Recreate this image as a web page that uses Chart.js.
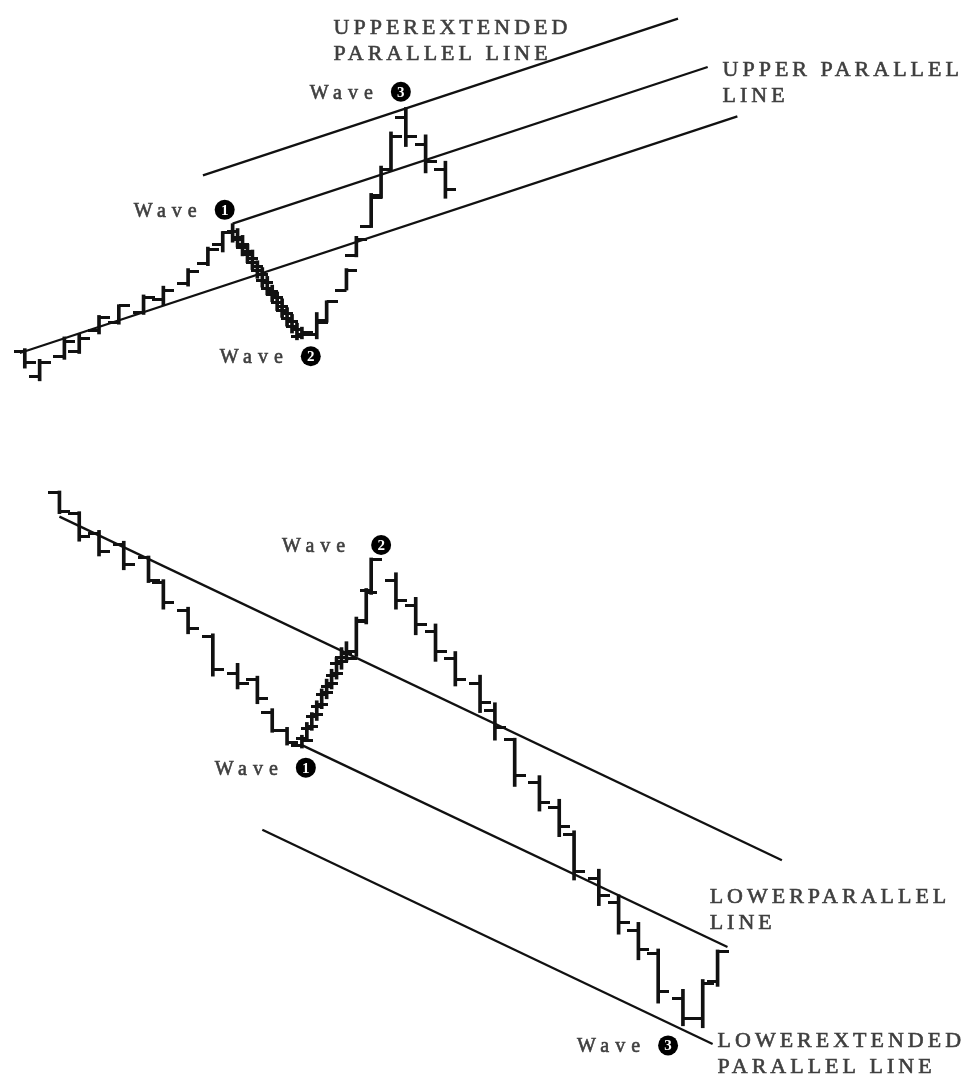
<!DOCTYPE html>
<html>
<head>
<meta charset="utf-8">
<script src="https://cdn.jsdelivr.net/npm/chart.js@4.4.1/dist/chart.umd.min.js"></script>
<style>
  html, body { margin: 0; padding: 0; background: #fff; }
  #wrap { position: relative; width: 970px; height: 1082px; }
  #topPanel { position: absolute; left: 0; top: 0; }
  #bottomPanel { position: absolute; left: 0; top: 420px; }
</style>
</head>
<body>
<div id="wrap">
  <canvas id="topPanel" width="970" height="420"></canvas>
  <canvas id="bottomPanel" width="970" height="662"></canvas>
</div>
<script>
// ── Upper panel: rising channel, waves 1-2-3 ──
const topDays  = [4, 7, 12, 15, 19, 23, 28, 32, 37, 41, 44, 46, 47, 48, 49, 50, 51, 52, 53, 54, 55, 56, 57, 58, 59, 60, 63, 65, 69, 71, 74, 76, 78, 81, 85, 89];
const topHigh  = [13.6, 11.4, 16.0, 16.6, 20.4, 22.6, 24.6, 26.4, 30.0, 34.4, 37.6, 39.2, 38.2, 36.8, 35.0, 33.8, 31.6, 30.2, 28.4, 26.6, 25.2, 23.8, 22.0, 20.6, 18.8, 18.0, 21.0, 23.4, 30.0, 36.6, 45.4, 51.0, 58.0, 63.0, 57.4, 52.0];
const topLow   = [9.6, 7.0, 11.4, 12.6, 16.6, 18.6, 20.6, 22.4, 26.4, 30.6, 33.4, 35.4, 34.4, 32.6, 31.2, 29.8, 28.0, 26.2, 24.6, 23.2, 21.4, 20.0, 18.2, 16.8, 15.4, 15.6, 15.6, 19.0, 25.6, 32.4, 38.4, 44.4, 50.0, 55.0, 49.6, 44.4];
const topOpen  = [13.0, 7.8, 12.0, 13.0, 17.4, 19.0, 21.0, 23.6, 27.0, 31.0, 35.0, 37.4, 37.6, 36.0, 34.4, 32.8, 31.2, 29.6, 27.6, 26.0, 24.6, 23.0, 21.4, 19.8, 18.2, 16.0, 16.4, 19.4, 25.6, 32.6, 38.6, 45.0, 50.4, 61.0, 55.4, 50.4];
const topClose = [10.8, 10.8, 15.0, 15.6, 20.0, 22.4, 24.0, 25.6, 29.4, 34.0, 37.4, 36.4, 35.0, 33.6, 32.0, 30.4, 28.8, 27.2, 25.4, 24.0, 22.2, 20.8, 19.2, 17.6, 16.4, 17.0, 19.0, 23.2, 29.6, 36.0, 44.6, 50.4, 57.0, 57.0, 52.0, 46.2];

const topLowerLine    = [{ x: 3, y: 12.7 }, { x: 148, y: 61.2 }];
const topUpperLine    = [{ x: 46, y: 39.2 }, { x: 142, y: 71.3 }];
const topExtendedLine = [{ x: 40, y: 49.1 }, { x: 136, y: 81.2 }];

// ── Lower panel: falling channel, waves 1-2-3 ──
const botDays  = [11, 15, 19, 24, 29, 32, 37, 42, 47, 51, 54, 57, 60, 61, 62, 63, 64, 65, 66, 67, 68, 69, 71, 73, 74, 79, 83, 87, 91, 96, 99, 103, 108, 112, 115, 120, 124, 128, 132, 137, 141, 144];
const botHigh  = [119.0, 114.8, 111.0, 108.8, 105.8, 101.0, 95.4, 90.0, 84.0, 81.4, 74.8, 71.0, 69.4, 72.0, 74.0, 76.4, 78.8, 80.8, 82.8, 85.2, 87.2, 88.4, 93.4, 99.2, 105.4, 102.4, 97.4, 92.0, 86.4, 81.6, 76.0, 68.8, 61.2, 56.4, 50.0, 42.2, 37.0, 31.4, 26.0, 17.8, 19.8, 25.8];
const botLow   = [114.4, 108.8, 105.8, 103.0, 100.4, 95.0, 90.0, 81.4, 78.8, 75.8, 70.0, 67.4, 66.8, 68.4, 70.4, 72.4, 74.8, 76.8, 78.8, 80.8, 82.8, 84.4, 85.4, 92.0, 98.0, 95.0, 89.8, 84.4, 79.4, 74.0, 68.4, 59.0, 54.0, 48.8, 40.0, 34.8, 29.0, 23.8, 15.0, 10.4, 10.0, 18.4];
const botOpen  = [118.6, 114.4, 110.4, 108.2, 105.4, 100.4, 94.8, 89.4, 82.0, 80.8, 74.0, 70.4, 67.4, 68.8, 70.8, 73.2, 75.2, 77.6, 79.2, 81.6, 84.0, 85.2, 86.4, 92.8, 98.8, 100.8, 95.8, 90.4, 85.0, 80.0, 74.4, 68.6, 59.8, 54.8, 49.2, 40.4, 35.4, 29.8, 25.0, 16.0, 11.8, 19.4];
const botClose = [114.8, 109.8, 106.8, 104.0, 100.8, 96.4, 91.0, 82.8, 80.0, 76.8, 70.4, 68.0, 68.4, 71.2, 73.6, 75.6, 78.0, 80.0, 82.0, 84.4, 86.0, 85.0, 92.4, 98.4, 105.0, 96.8, 91.8, 86.4, 80.8, 76.0, 71.0, 61.2, 55.8, 50.8, 41.8, 36.8, 31.4, 25.8, 17.4, 11.8, 19.0, 25.4];

const botUpperLine    = [{ x: 11, y: 113.8 }, { x: 157, y: 44.0 }];
const botLowerLine    = [{ x: 60, y: 67.4 }, { x: 146, y: 26.4 }];
const botExtendedLine = [{ x: 52, y: 50.2 }, { x: 143, y: 6.7 }];

// text notes, anchored in day / price units
const topNotes = [
  { lines: ["UPPEREXTENDED", "PARALLEL LINE"], x: 66.4, y: 78.0 },
  { lines: ["UPPER PARALLEL", "LINE"], x: 145, y: 69.4 },
  { wave: 3, x: 61.6, y: 64.8 },
  { wave: 1, x: 26, y: 40.6 },
  { wave: 2, x: 43.4, y: 10.6 },
];
const botNotes = [
  { wave: 2, x: 56, y: 106.6, gap: 8 },
  { wave: 1, x: 42.4, y: 61.4 },
  { lines: ["LOWERPARALLEL", "LINE"], x: 142.4, y: 35.4 },
  { wave: 3, x: 115.6, y: 5.0 },
  { lines: ["LOWEREXTENDED", "PARALLEL LINE"], x: 144, y: 6.0 },
];

const INK = "#111";
const TEXT = "#3f3f3f";
const TICK = 11;

// open / close ticks as little canvases, used as point styles
function tickImage(side) {
  const c = document.createElement("canvas");
  c.width = TICK * 2;
  c.height = 3;
  const g = c.getContext("2d");
  g.fillStyle = INK;
  g.fillRect(side === "left" ? 0 : TICK, 0, TICK, 3);
  return c;
}
const openTick = tickImage("left");
const closeTick = tickImage("right");

function notesPlugin(notes) {
  return {
    id: "notes",
    afterDraw(chart) {
      const { ctx } = chart;
      const xs = chart.scales.x, ys = chart.scales.y;
      ctx.save();
      ctx.textBaseline = "alphabetic";
      ctx.lineWidth = 0.6;
      ctx.strokeStyle = TEXT;
      notes.forEach((n) => {
        const px = xs.getPixelForValue(n.x);
        const py = ys.getPixelForValue(n.y);
        if (n.lines) {
          ctx.font = '22px "Liberation Serif"';
          ctx.letterSpacing = "4px";
          ctx.fillStyle = TEXT;
          n.lines.forEach((t, i) => {
            ctx.fillText(t, px, py + i * 26);
            ctx.strokeText(t, px, py + i * 26);
          });
        } else {
          ctx.font = '20px "Liberation Serif"';
          ctx.letterSpacing = "6px";
          ctx.fillStyle = TEXT;
          ctx.fillText("Wave", px, py);
          ctx.strokeText("Wave", px, py);
          const w = ctx.measureText("Wave").width;
          const cx = px + w + 22 + (n.gap || 0), cy = py - 7;
          ctx.beginPath();
          ctx.arc(cx, cy, 10, 0, Math.PI * 2);
          ctx.fillStyle = "#000";
          ctx.fill();
          ctx.letterSpacing = "0px";
          ctx.font = 'bold 15px "Liberation Serif"';
          ctx.fillStyle = "#fff";
          ctx.textAlign = "center";
          ctx.fillText(String(n.wave), cx, cy + 5);
          ctx.textAlign = "left";
        }
      });
      ctx.restore();
    },
  };
}

function lineSet(data) {
  return {
    type: "line",
    data: data,
    borderColor: INK,
    borderWidth: 2.3,
    pointRadius: 0,
    fill: false,
  };
}

function makePanel(id, days, high, low, open, close, channels, notes, yMax) {
  new Chart(document.getElementById(id), {
    type: "scatter",
    data: {
      datasets: [
        ...channels.map(lineSet),
        {
          type: "bar",
          data: days.map((d, i) => ({ x: d, y: [low[i], high[i]] })),
          backgroundColor: INK,
          barThickness: 3,
          borderWidth: 0,
        },
        {
          data: days.map((d, i) => ({ x: d, y: open[i] })),
          pointStyle: openTick,
          pointRadius: 3,
        },
        {
          data: days.map((d, i) => ({ x: d, y: close[i] })),
          pointStyle: closeTick,
          pointRadius: 3,
        },
      ],
    },
    options: {
      responsive: false,
      animation: false,
      events: [],
      layout: { padding: 0 },
      plugins: { legend: { display: false }, tooltip: { enabled: false } },
      scales: {
        x: { type: "linear", min: 0, max: 194, offset: false, display: false },
        y: { type: "linear", min: 0, max: yMax, display: false },
      },
    },
    plugins: [notesPlugin(notes)],
  });
}

makePanel("topPanel", topDays, topHigh, topLow, topOpen, topClose,
  [topLowerLine, topUpperLine, topExtendedLine], topNotes, 84);
makePanel("bottomPanel", botDays, botHigh, botLow, botOpen, botClose,
  [botUpperLine, botLowerLine, botExtendedLine], botNotes, 132.4);
</script>
</body>
</html>
